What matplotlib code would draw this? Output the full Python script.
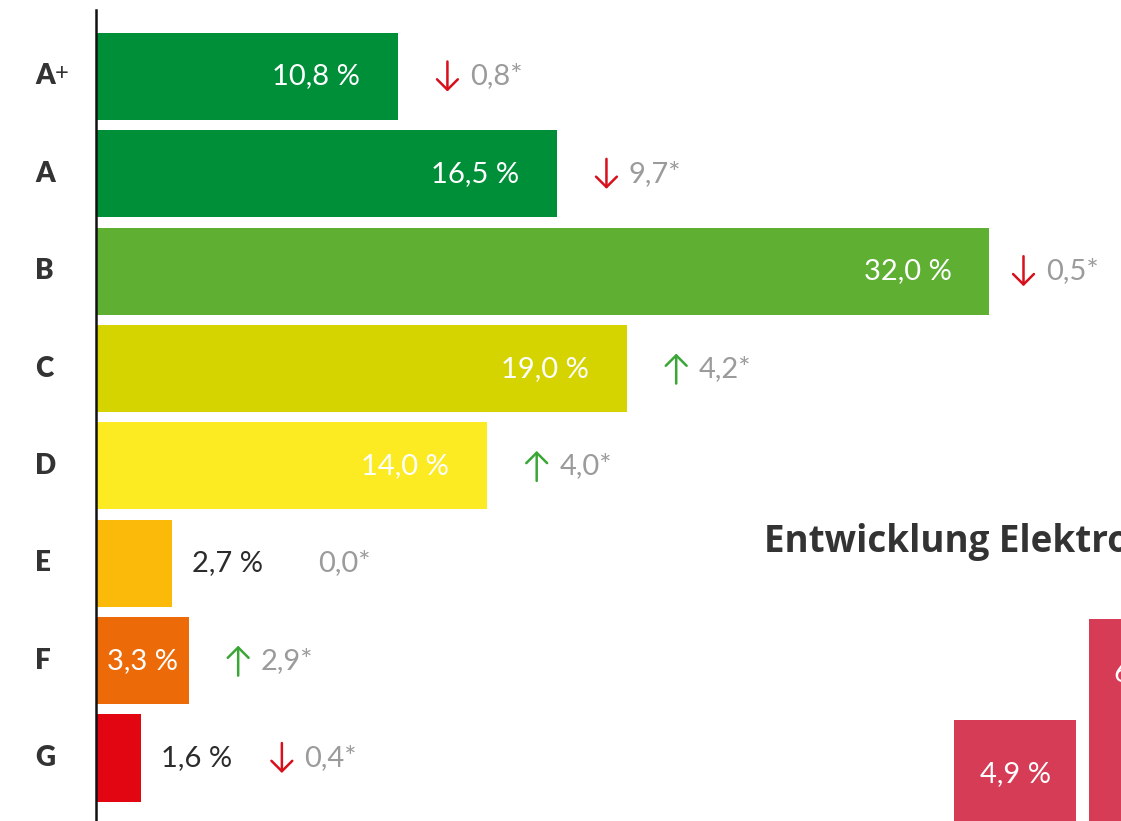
import numpy as np
import matplotlib.pyplot as plt

# Energy label distribution
labels = ['A+', 'A', 'B', 'C', 'D', 'E', 'F', 'G']
shares = [10.8, 16.5, 32.0, 19.0, 14.0, 2.7, 3.3, 1.6]
changes = [0.8, 9.7, 0.5, 4.2, 4.0, 0.0, 2.9, 0.4]
trend = ['down', 'down', 'down', 'up', 'up', 'none', 'up', 'down']
colors = ['#008f39', '#008f39', '#5eaf32', '#d6d400', '#fcea23',
          '#fbba0a', '#ed6a08', '#e20613']
label_pos = ['in', 'in', 'in', 'in', 'in', 'out', 'center', 'out']

# Second (clipped) chart on the right
dev_values = [4.9, 6.6]
dev_color = '#d63c55'
dev_title = 'Entwicklung Elektrogeräte'

FONT = 'Lato'
W, H = 1121, 821
fig = plt.figure(figsize=(W / 100, H / 100), dpi=100)

# main axes, positioned in pixels
px = 27.9  # pixels per percent
left_px, top_px = 95.5, 10
ax = fig.add_axes([left_px / W, 0, 1 - left_px / W, 1 - top_px / H])
x0 = -1.1 / px
ax.set_xlim(x0, x0 + (W - left_px) / px)
ax.set_ylim(7.647, -0.683)

y = np.arange(len(labels))
ax.barh(y, shares, height=0.894, color=colors, zorder=1)

for s in ['top', 'right', 'bottom']:
    ax.spines[s].set_visible(False)
ax.spines['left'].set_linewidth(1.8)
ax.spines['left'].set_color('#111111')
ax.set_xticks([])
ax.set_yticks([])

fig.canvas.draw()
renderer = fig.canvas.get_renderer()

def to_px(xd, yd):
    return ax.transData.transform((xd, yd))

def fmt(v):
    return f'{v:.1f}'.replace('.', ',')

for i, lab in enumerate(labels):
    bx, cy = to_px(shares[i], i)
    # category label
    base = lab.rstrip('+')
    t = fig.text(35 / W, cy / H, base, ha='left', va='center', fontsize=20,
                 fontweight='heavy', color='#333333', family=FONT)
    if lab.endswith('+'):
        ext = t.get_window_extent(renderer)
        fig.text((ext.x1 + 0.5) / W, (cy + 3) / H, '+', ha='left', va='center',
                 fontsize=17, color='#333333', family=FONT)

    # value label
    txt = fmt(shares[i]) + ' %'
    if label_pos[i] == 'in':
        vt = fig.text((bx - 38) / W, cy / H, txt, ha='right', va='center',
                      fontsize=21, color='white', family=FONT)
        anchor = bx
    elif label_pos[i] == 'center':
        sx, _ = to_px(0, i)
        vt = fig.text((sx + bx) / 2 / W, cy / H, txt, ha='center', va='center',
                      fontsize=21, color='white', family=FONT)
        anchor = bx
    else:
        vt = fig.text((bx + 20) / W, cy / H, txt, ha='left', va='center',
                      fontsize=21, color='#2b2b2b', family=FONT)
        anchor = vt.get_window_extent(renderer).x1

    # change indicator
    ax_start = min(anchor + 39, 1013)
    if trend[i] == 'none':
        nx = ax_start + 16
    else:
        nx = ax_start + 33
        acx = ax_start + 10.5
        if trend[i] == 'down':
            p0, p1, col = (acx, cy + 15), (acx, cy - 15), '#d7101c'
        else:
            p0, p1, col = (acx, cy - 15), (acx, cy + 15), '#3aa635'
        fig.patches.append(plt.matplotlib.patches.FancyArrowPatch(
            p0, p1, transform=None, arrowstyle='->,head_length=0.75,head_width=0.75',
            mutation_scale=10, lw=1.8, color=col, shrinkA=0, shrinkB=0))
    fig.text(nx / W, cy / H, fmt(changes[i]) + '*', ha='left', va='center',
             fontsize=21, color='#9b9b9b', family=FONT)

# clipped second chart
fig.text(764 / W, (H - 542) / H, dev_title, ha='left', va='center',
         fontsize=26.5, fontweight='bold', color='#333333', family='Open Sans')

base_px = 1010  # baseline below the visible area (from top)
top2 = 600
scale2 = 59.2
ax2 = fig.add_axes([900 / W, (H - base_px) / H, 400 / W, (base_px - top2) / H])
ax2.set_xlim(-115 / 135, 285 / 135)
ax2.set_ylim(0, (base_px - top2) / scale2)
ax2.bar(np.arange(len(dev_values)), dev_values, width=0.9, color=dev_color)
ax2.axis('off')
for i, v in enumerate(dev_values):
    ax2.annotate(fmt(v) + ' %', (i, v), xytext=(0, -39), textcoords='offset points',
                 ha='center', va='center', fontsize=21, color='white', family=FONT,
                 annotation_clip=False)

fig.savefig('out.png', dpi=100)
